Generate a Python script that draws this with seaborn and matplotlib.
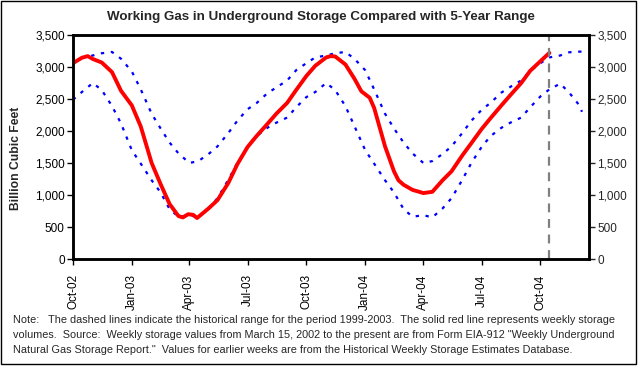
import matplotlib
matplotlib.use("Agg")
import matplotlib.pyplot as plt
import matplotlib.dates as mdates
from matplotlib.ticker import FuncFormatter
from matplotlib.patches import Rectangle
import pandas as pd
import seaborn as sns

sns.set_style("white")
plt.rcParams['font.family'] = ['Liberation Sans', 'DejaVu Sans']

# ---------------- data ----------------
title = "Working Gas in Underground Storage Compared with 5-Year Range"
y_label = "Billion Cubic Feet"
note_lines = [
    "Note:   The dashed lines indicate the historical range for the period 1999-2003.  The solid red line represents weekly storage",
    "volumes.  Source:  Weekly storage values from March 15, 2002 to the present are from Form EIA-912 \"Weekly Underground",
    "Natural Gas Storage Report.\"  Values for earlier weeks are from the Historical Weekly Storage Estimates Database.",
]

storage_dates = [
    "2002-10-01", "2002-10-15", "2002-10-24", "2002-11-01", "2002-11-15", "2002-12-01", "2002-12-15",
    "2003-01-01", "2003-01-15", "2003-02-01", "2003-02-15", "2003-03-01", "2003-03-15", "2003-03-22",
    "2003-03-30", "2003-04-07", "2003-04-13", "2003-05-01", "2003-05-15", "2003-06-01", "2003-06-15",
    "2003-07-01", "2003-07-15", "2003-08-01", "2003-08-15", "2003-09-01", "2003-09-15", "2003-10-01",
    "2003-10-15", "2003-11-01", "2003-11-08", "2003-11-15", "2003-12-01", "2003-12-15", "2003-12-26",
    "2004-01-08", "2004-01-15", "2004-02-01", "2004-02-15", "2004-02-22", "2004-03-01", "2004-03-15",
    "2004-04-01", "2004-04-15", "2004-05-01", "2004-05-15", "2004-06-01", "2004-06-15", "2004-07-01",
    "2004-07-15", "2004-08-01", "2004-08-15", "2004-09-01", "2004-09-15", "2004-10-01", "2004-10-15",
]
storage_values = [
    3060, 3145, 3170, 3125, 3070, 2920, 2630,
    2400, 2070, 1500, 1170, 860, 670, 650,
    700, 690, 640, 790, 920, 1190, 1480,
    1750, 1920, 2110, 2270, 2440, 2640, 2860,
    3020, 3150, 3170, 3165, 3040, 2820, 2620,
    2520, 2360, 1760, 1370, 1230, 1160, 1080,
    1030, 1050, 1230, 1370, 1620, 1810, 2030,
    2200, 2400, 2560, 2750, 2940, 3090, 3220,
]

range_dates = [
    "2002-10-01", "2002-10-15", "2002-11-01", "2002-11-15", "2002-12-01", "2002-12-15",
    "2003-01-01", "2003-01-15", "2003-02-01", "2003-02-15", "2003-03-01", "2003-03-15",
    "2003-04-01", "2003-04-15", "2003-05-01", "2003-05-15", "2003-06-01", "2003-06-15",
    "2003-07-01", "2003-07-15", "2003-08-01", "2003-08-15", "2003-09-01", "2003-09-15",
    "2003-10-01", "2003-10-15", "2003-11-01", "2003-11-15", "2003-12-01", "2003-12-15",
    "2004-01-01", "2004-01-15", "2004-02-01", "2004-02-15", "2004-03-01", "2004-03-15",
    "2004-04-01", "2004-04-15", "2004-05-01", "2004-05-15", "2004-06-01", "2004-06-15",
    "2004-07-01", "2004-07-15", "2004-08-01", "2004-08-15", "2004-09-01", "2004-09-15",
    "2004-10-01", "2004-10-15", "2004-11-01", "2004-11-15", "2004-12-01", "2004-12-05",
]
range_high = [
    3060, 3150, 3180, 3215, 3235, 3130, 2930, 2650, 2270, 2040, 1820, 1650,
    1500, 1530, 1640, 1760, 1970, 2160, 2340, 2435, 2590, 2680, 2790, 2950,
    3060, 3150, 3180, 3215, 3235, 3130, 2950, 2650, 2270, 2040, 1820, 1650,
    1500, 1530, 1640, 1760, 1970, 2160, 2330, 2440, 2600, 2690, 2790, 2940,
    3060, 3150, 3180, 3230, 3240, 3240,
]
range_low = [
    2490, 2610, 2750, 2640, 2390, 2120, 1700, 1490, 1230, 1040, 780, 660,
    685, 650, 790, 950, 1240, 1500, 1750, 1920, 2050, 2130, 2210, 2370,
    2530, 2610, 2750, 2640, 2390, 2080, 1700, 1490, 1230, 1040, 780, 660,
    685, 650, 790, 950, 1240, 1500, 1750, 1920, 2050, 2130, 2210, 2370,
    2540, 2650, 2740, 2600, 2400, 2300,
]
current_week = "2004-10-15"
x_start, x_end = "2002-10-01", "2004-12-16"
y_ticks = [0, 500, 1000, 1500, 2000, 2500, 3000, 3500]

# ---------------- frames ----------------
storage_df = pd.DataFrame({"date": pd.to_datetime(storage_dates), "value": storage_values})
range_df = pd.DataFrame({"date": pd.to_datetime(range_dates), "high": range_high, "low": range_low})

# ---------------- figure ----------------
fig = plt.figure(figsize=(6.38, 3.66), dpi=100)
ax = fig.add_axes([73 / 638, 1 - 259 / 366, (589 - 73) / 638, (259 - 35) / 366])

dash = (0, (1.5, 3.0))
sns.lineplot(data=range_df, x="date", y="high", ax=ax, color="#0000FF", lw=1.6,
             linestyle=dash, legend=False)
sns.lineplot(data=range_df, x="date", y="low", ax=ax, color="#0000FF", lw=1.6,
             linestyle=dash, legend=False)
sns.lineplot(data=storage_df, x="date", y="value", ax=ax, color="#FF0000", lw=2.8,
             legend=False)
ax.axvline(pd.Timestamp(current_week), color="#808080", lw=1.6, linestyle=(0, (4, 3)))

ax.set_xlim(pd.Timestamp(x_start), pd.Timestamp(x_end))
ax.set_ylim(0, 3500)
ax.set_yticks(y_ticks)
fmt = FuncFormatter(lambda v, p: f"{int(v):,}")
ax.yaxis.set_major_formatter(fmt)
ax.xaxis.set_major_locator(mdates.MonthLocator(bymonth=[1, 4, 7, 10]))
ax.xaxis.set_major_formatter(mdates.DateFormatter("%b-%y"))
ax.set_xlabel("")
ax.set_ylabel("")

for lab in ax.get_xticklabels():
    lab.set_rotation(90)
ax.tick_params(axis="both", which="major", direction="out", length=4, width=1,
               labelsize=8.5, colors="black", pad=2)
ax.tick_params(axis="y", left=True)
ax.tick_params(axis="x", bottom=True, pad=7)
for s in ax.spines.values():
    s.set_color("black")
    s.set_linewidth(1.8)
    s.set_visible(True)

ax2 = ax.twinx()
ax2.set_ylim(0, 3500)
ax2.set_yticks(y_ticks)
ax2.yaxis.set_major_formatter(fmt)
ax2.tick_params(axis="y", direction="out", length=4, width=1, labelsize=8.5, right=True, pad=2)
for s in ax2.spines.values():
    s.set_color("black")
    s.set_linewidth(1.8)

fig.text(16 / 638, 1 - 158 / 366, y_label, rotation=90, ha="center", va="center",
         fontsize=8.7, fontweight="bold")
fig.text(321 / 638, 1 - 17 / 366, title, ha="center", va="center", fontsize=9.6, fontweight="bold")
for i, line in enumerate(note_lines):
    fig.text(13 / 638, 1 - (320 + i * 14.8) / 366, line, ha="left", va="center", fontsize=7.8)

fig.patches.append(Rectangle((1 / 638, 2 / 366), 635 / 638, 363 / 366, transform=fig.transFigure,
                             fill=False, edgecolor="black", lw=1.0))

fig.savefig("out.png", dpi=100)
